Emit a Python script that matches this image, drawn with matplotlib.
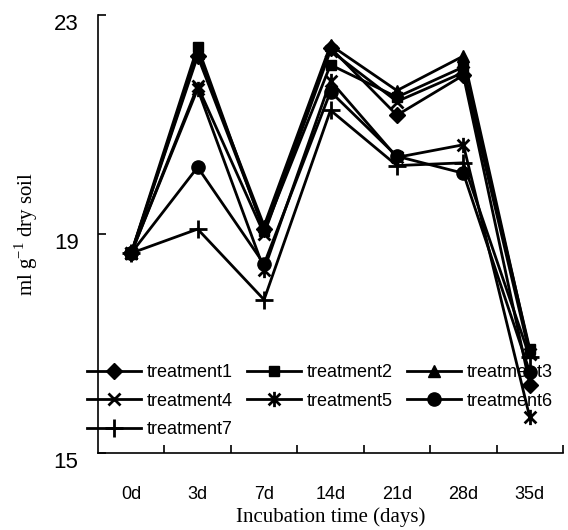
import numpy as np
import matplotlib
matplotlib.use("Agg")
import matplotlib.pyplot as plt
import matplotlib.transforms as mtransforms
from matplotlib.path import Path

days = ["0d", "3d", "7d", "14d", "21d", "28d", "35d"]
treatment1 = [18.65, 22.25, 19.10, 22.40, 21.17, 21.90, 16.25]
treatment2 = [18.65, 22.42, 19.05, 22.09, 21.50, 22.05, 16.90]
treatment3 = [18.65, 22.30, 19.15, 22.45, 21.62, 22.25, 16.85]
treatment4 = [18.65, 21.70, 19.00, 22.35, 21.42, 21.95, 16.80]
treatment5 = [18.65, 21.65, 18.35, 21.80, 20.40, 20.63, 15.65]
treatment6 = [18.65, 20.22, 18.45, 21.60, 20.42, 20.11, 16.48]
treatment7 = [18.65, 19.09, 17.80, 21.26, 20.25, 20.30, 16.75]

# excel style asterisk: an x with a vertical bar through it
ast = Path([(-1, -1), (1, 1), (-1, 1), (1, -1), (0, -1.3), (0, 1.3)],
           [Path.MOVETO, Path.LINETO, Path.MOVETO, Path.LINETO, Path.MOVETO, Path.LINETO])

series = [
    ("treatment1", treatment1, dict(marker="D", ms=8)),
    ("treatment2", treatment2, dict(marker="s", ms=7.5)),
    ("treatment3", treatment3, dict(marker="^", ms=8.5)),
    ("treatment4", treatment4, dict(marker="x", ms=8, mew=2)),
    ("treatment5", treatment5, dict(marker=ast, ms=11, mew=2)),
    ("treatment6", treatment6, dict(marker="o", ms=9.5)),
    ("treatment7", treatment7, dict(marker="+", ms=13, mew=2)),
]

fig = plt.figure(figsize=(5.68, 5.30), dpi=100)
ax = fig.add_axes([98/568, 77/530, 465/568, 438/530])

x = np.arange(len(days))
handles = {}
for name, vals, st in series:
    h, = ax.plot(x, vals, color="black", lw=2, label=name, zorder=3, **st)
    handles[name] = h

ax.set_xlim(-0.5, len(days) - 0.5)
ax.set_ylim(15, 23)
ax.set_yticks([15, 19, 23])
ax.set_xticks(x)
ax.set_xticklabels(days, fontsize=13, family="Liberation Sans")
ax.set_xticks(np.arange(len(days)) + 0.5, minor=True)
ax.tick_params(axis="x", which="major", length=0, pad=24)
ax.tick_params(axis="x", which="minor", direction="in", length=6, width=1.2)
ax.tick_params(axis="y", direction="in", length=6, width=1.2, pad=14)
shift = mtransforms.ScaledTranslation(0, -5/72, fig.dpi_scale_trans)
for lab in ax.get_yticklabels():
    lab.set_fontsize(16)
    lab.set_family("Liberation Sans")
    lab.set_transform(lab.get_transform() + shift)

for s in ["top", "right"]:
    ax.spines[s].set_visible(False)
for s in ["left", "bottom"]:
    ax.spines[s].set_linewidth(1.2)

ax.set_xlabel("Incubation time (days)", family="Liberation Serif", fontsize=15, labelpad=3)
ax.set_ylabel(r"ml g$^{\mathregular{-1}}$ dry soil", family="Liberation Serif", fontsize=15)
ax.yaxis.set_label_coords(-0.125, 0.5)

# legend reads row by row in the reference, matplotlib fills columns
order = ["treatment1", "treatment4", "treatment7", "treatment2", "treatment5",
         "treatment3", "treatment6"]
leg = ax.legend([handles[n] for n in order], order,
                loc="upper left", bbox_to_anchor=(87/568, 1 - 364/530),
                bbox_transform=fig.transFigure, ncol=3, frameon=False,
                prop={"family": "Liberation Sans", "size": 13},
                handlelength=3.0, handletextpad=0.3, columnspacing=0.8,
                labelspacing=0.65, borderpad=0, borderaxespad=0)
leg.set_zorder(1)

fig.savefig("out.png", dpi=100)
